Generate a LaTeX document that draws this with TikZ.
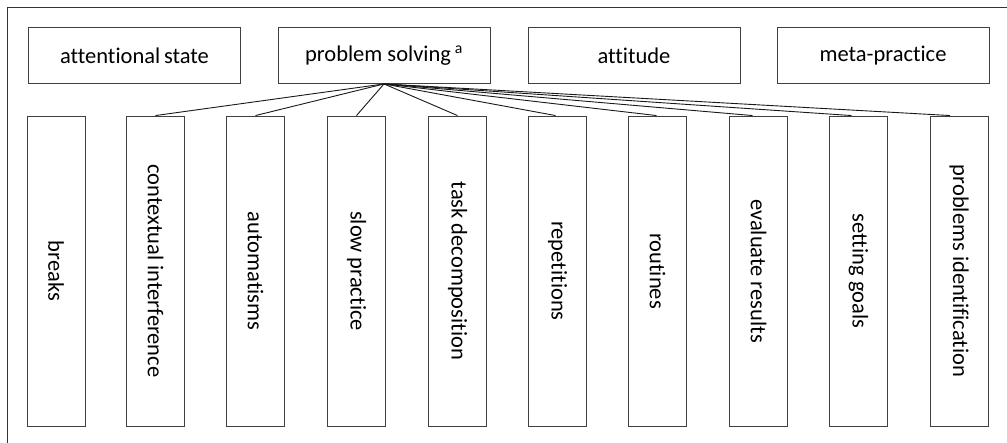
\documentclass[tikz,border=0pt]{standalone}
\usepackage{fontspec}
\setmainfont{Carlito}[Ligatures=NoCommon]
\usepackage{graphicx}
\tikzset{
  topbox/.style={draw=black!75, line width=0.9pt, minimum width=212pt, minimum height=56pt, inner sep=0pt, font=\fontsize{22.5}{26}\selectfont},
  vbox/.style={draw=black!75, line width=0.9pt, minimum width=58pt, minimum height=310pt, inner sep=0pt, font=\fontsize{22.5}{26}\selectfont},
  conn/.style={draw=black!90, line width=0.9pt},
  frame/.style={draw=black!80, line width=0.9pt}
}
\newcommand{\vt}[1]{\rotatebox{-90}{#1}}
\begin{document}
\begin{tikzpicture}[x=1pt,y=-1pt]
\useasboundingbox (0,0) rectangle (1007,443);
\draw[frame] (7,443) -- (7,7) -- (1007,7);
\node[topbox] (att) at (134.5,55.5) {attentional\,state};
\node[topbox] (ps) at (384,55.5) {problem solving\,\textsuperscript{a}};
\node[topbox] (atti) at (634,55.5) {attitude};
\node[topbox] (meta) at (883,55.5) {meta-practice};
\node[vbox] (b1) at (56,271) {\vt{breaks}};
\node[vbox] (b2) at (155.5,271) {\vt{contextual interference}};
\node[vbox] (b3) at (255.5,271) {\vt{automatisms}};
\node[vbox] (b4) at (356.5,271) {\vt{slow practice}};
\node[vbox] (b5) at (457.5,271) {\vt{task decomposition}};
\node[vbox] (b6) at (557.5,271) {\vt{repetitions}};
\node[vbox] (b7) at (657.5,271) {\vt{routines}};
\node[vbox] (b8) at (758.5,271) {\vt{evaluate results}};
\node[vbox] (b9) at (858.5,271) {\vt{setting goals}};
\node[vbox] (b10) at (959,271) {\vt{problems identification}};
\foreach \b/\s in {b2/0,b3/0,b4/0,b5/0,b6/-2,b7/-1,b8/-6,b9/-7,b10/-9}
  \draw[conn] (ps.south) -- ([xshift=\s pt]\b.north);
\end{tikzpicture}
\end{document}
